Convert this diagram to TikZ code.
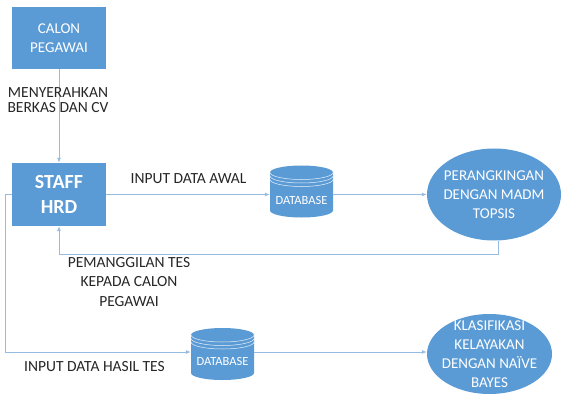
\documentclass[tikz,border=0pt]{standalone}
\usepackage{fontspec}
\setmainfont{Carlito}
\usepackage{tikz}
\usetikzlibrary{arrows.meta,positioning,calc,shapes.geometric}
\usepackage{xcolor}
\definecolor{hrdblue}{RGB}{91,155,213}
\definecolor{flowline}{RGB}{150,188,226}
\definecolor{labelgray}{RGB}{38,38,38}

\tikzset{
  box/.style={fill=hrdblue, text=white, minimum width=94pt, minimum height=62pt, align=center, inner sep=0pt},
  proc/.style={ellipse, fill=hrdblue, text=white, align=center, inner xsep=-8pt, inner ysep=-12pt,
    font=\fontsize{15}{19}\selectfont},
  dbnode/.style={minimum width=63pt, minimum height=52pt, inner sep=0pt, text=white,
    font=\fontsize{12.5}{14}\selectfont,
    path picture={
      \fill[hrdblue] ([yshift=-7pt]path picture bounding box.north west)
        arc[start angle=180, end angle=0, x radius=31.5pt, y radius=7pt]
        -- ([yshift=7pt]path picture bounding box.south east)
        arc[start angle=0, end angle=-180, x radius=31.5pt, y radius=7pt] -- cycle;
      \foreach \dy in {7,10.5,14}
        \draw[white!85!hrdblue, line width=0.5pt] ([yshift=-\dy pt]path picture bounding box.north west)
          arc[start angle=180, end angle=360, x radius=31.5pt, y radius=7pt];
    }},
  lbl/.style={text=labelgray, align=center, inner sep=0pt, font=\fontsize{15.5}{19.5}\selectfont},
  flow/.style={draw=flowline, line width=0.8pt, -{Latex[length=5pt,width=4pt]}}
}

\begin{document}
\begin{tikzpicture}[x=1pt, y=1pt]
    \useasboundingbox (0,0) rectangle (564,394);

    \node[box, font=\fontsize{15}{19}\selectfont] (calon) at (59,356) {CALON\\PEGAWAI};
    \node[box, minimum height=63pt, font=\bfseries\fontsize{20}{25}\selectfont] (hrd) at (59,199.5) {STAFF\\HRD};
    \node[dbnode] (db1) at (301.5,202.5) {\raisebox{-9pt}[\height][\depth]{DATABASE}};
    \node[proc, minimum width=134pt, minimum height=92pt] (topsis) at (494,199.5) {PERANGKINGAN\\DENGAN MADM\\TOPSIS};
    \node[dbnode] (db2) at (222.5,40) {\raisebox{-7pt}[\height][\depth]{DATABASE}};
    \node[proc, minimum width=125pt, minimum height=80pt] (bayes) at (489.5,40) {KLASIFIKASI\\KELAYAKAN\\DENGAN NAÏVE\\BAYES};

    \coordinate (back) at (498,140);
    \coordinate (left) at (5,42);

    \draw[flow] (calon.south) -- (hrd.north);
    \draw[flow] (hrd.east) -- (hrd.east -| db1.west);
    \draw[flow] (db1.east |- topsis.west) -- (topsis.west);
    \draw[flow] (topsis.south -| back) -- (back) -| (hrd.south);
    \draw[flow] (hrd.west) -| (left) -- (left -| db2.west);
    \draw[flow] (db2.east |- left) -- (left -| bayes.west);

    \node[lbl, font=\fontsize{15.5}{15}\selectfont] (berkas) at (58,294) {MENYERAHKAN\\BERKAS DAN CV};
    \node[lbl] (awal) at (188.5,215) {INPUT DATA AWAL};
    \node[lbl] (panggil) at (129,112) {PEMANGGILAN TES\\KEPADA CALON\\PEGAWAI};
    \node[lbl] (hasil) at (94.5,27) {INPUT DATA HASIL TES};
\end{tikzpicture}
\end{document}
